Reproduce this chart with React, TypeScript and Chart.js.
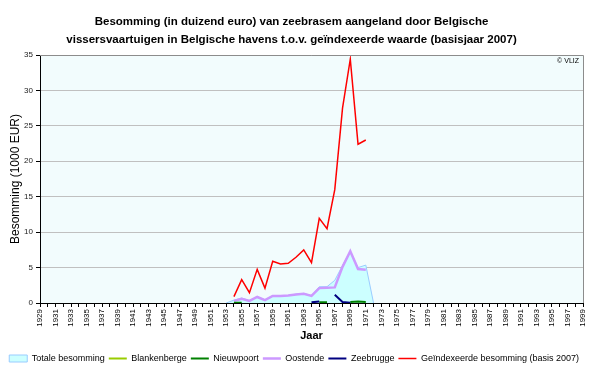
import React, { useEffect, useRef } from 'react';
import { Chart, registerables } from 'chart.js';

Chart.register(...registerables);

// Category axis: every year 1929–1999
const years: string[] = [];
for (let y = 1929; y <= 1999; y++) years.push(String(y));

// Series values (1000 EUR), listed for the years 1953..1972
const seriesStartYear = 1953;
const totaleBesomming = [0, 0.4, 0.7, 0.35, 0.9, 0.45, 1.05, 1.0, 1.05, 1.25, 1.35, 1.05, 2.3, 2.3, 3.2, 5.3, 7.3, 5.0, 5.35, 0];
const blankenberge: (number | null)[] = [];
const nieuwpoort = [null, 0.05, 0.05, null, null, null, null, null, null, null, null, null, 0.1, 0.1, null, null, 0.15, 0.2, 0.15, null];
const oostende = [null, 0.3, 0.6, 0.3, 0.85, 0.4, 1.0, 1.0, 1.05, 1.2, 1.3, 1.0, 2.1, 2.15, 2.2, 5.1, 7.3, 4.8, 4.7, null];
const zeebrugge = [null, null, null, null, null, null, null, null, null, null, null, 0.1, 0.2, null, 1.15, 0.15, 0.05, null, null, null];
const geindexeerd = [null, 0.9, 3.3, 1.45, 4.75, 2.1, 5.9, 5.5, 5.6, 6.45, 7.5, 5.7, 11.95, 10.5, 16.0, 27.5, 34.4, 22.4, 23.0, null];

const yTicks = [0, 5, 10, 15, 20, 25, 30, 35];

const pad = (arr: (number | null)[]) =>
  years.map((y) => {
    const i = Number(y) - seriesStartYear;
    return i >= 0 && i < arr.length ? arr[i] : null;
  });

const FONT = "'Liberation Sans', Arial, sans-serif";

const plotDecor = {
  id: 'plotDecor',
  beforeDraw(chart: any) {
    const { ctx, chartArea: a } = chart;
    ctx.save();
    ctx.fillStyle = '#f2fcfd';
    ctx.fillRect(a.left, a.top, a.right - a.left, a.bottom - a.top);
    ctx.restore();
  },
  afterDraw(chart: any) {
    const { ctx, chartArea: a } = chart;
    ctx.save();
    ctx.strokeStyle = '#8c8c8c';
    ctx.lineWidth = 1;
    ctx.beginPath();
    ctx.moveTo(a.left, a.top + 0.5);
    ctx.lineTo(a.right + 0.5, a.top + 0.5);
    ctx.lineTo(a.right + 0.5, a.bottom);
    ctx.stroke();
    ctx.fillStyle = '#000';
    ctx.font = `7px ${FONT}`;
    ctx.textAlign = 'right';
    ctx.textBaseline = 'middle';
    ctx.fillText('© VLIZ', a.right - 4, a.top + 6);
    ctx.restore();
  },
};

export default function App() {
  const ref = useRef<HTMLCanvasElement | null>(null);

  useEffect(() => {
    document.body.style.margin = '0';
    const canvas = ref.current;
    if (!canvas) return;
    const chart = new Chart(canvas, {
      type: 'line',
      data: {
        labels: years,
        datasets: [
          {
            label: 'Totale besomming',
            data: pad(totaleBesomming),
            borderColor: '#99ccff',
            backgroundColor: '#ccffff',
            borderWidth: 1,
            fill: 'origin',
            pointRadius: 0,
            pointStyle: 'rect',
            order: 10,
          },
          {
            label: 'Blankenberge',
            data: pad(blankenberge),
            borderColor: '#99cc00',
            backgroundColor: '#99cc00',
            borderWidth: 2,
            fill: false,
            pointRadius: 0,
            pointStyle: 'line',
            order: 5,
          },
          {
            label: 'Nieuwpoort',
            data: pad(nieuwpoort),
            borderColor: '#008000',
            backgroundColor: '#008000',
            borderWidth: 2,
            fill: false,
            pointRadius: 0,
            pointStyle: 'line',
            order: 4,
          },
          {
            label: 'Oostende',
            data: pad(oostende),
            borderColor: '#cc99ff',
            backgroundColor: '#cc99ff',
            borderWidth: 2.5,
            fill: false,
            pointRadius: 0,
            pointStyle: 'line',
            order: 6,
          },
          {
            label: 'Zeebrugge',
            data: pad(zeebrugge),
            borderColor: '#000080',
            backgroundColor: '#000080',
            borderWidth: 2,
            fill: false,
            pointRadius: 0,
            pointStyle: 'line',
            order: 3,
          },
          {
            label: 'Geïndexeerde besomming (basis 2007)',
            data: pad(geindexeerd),
            borderColor: '#ff0000',
            backgroundColor: '#ff0000',
            borderWidth: 1.5,
            fill: false,
            pointRadius: 0,
            pointStyle: 'line',
            order: 1,
          },
        ],
      },
      options: {
        responsive: false,
        animation: false,
        spanGaps: false,
        layout: { padding: { left: 0, right: 17, top: 0, bottom: -5 } },
        font: { family: FONT },
        plugins: {
          tooltip: { enabled: false },
          title: {
            display: true,
            text: [
              'Besomming (in duizend euro) van zeebrasem aangeland door Belgische',
              'vissersvaartuigen in Belgische havens t.o.v. geïndexeerde waarde (basisjaar 2007)',
            ],
            color: '#000',
            font: { family: FONT, size: 11.5, weight: 'bold', lineHeight: '18px' },
            padding: { top: 13, bottom: 6 },
          },
          legend: {
            position: 'bottom',
            align: 'end',
            labels: {
              usePointStyle: true,
              pointStyleWidth: 18,
              boxHeight: 7,
              padding: 4,
              color: '#000',
              font: { family: FONT, size: 9 },
              sort: (a: any, b: any) => a.datasetIndex - b.datasetIndex,
            },
          },
        },
        scales: {
          x: {
            type: 'category',
            offset: false,
            afterFit: (s: any) => {
              s.height = 47;
            },
            grid: {
              display: true,
              drawOnChartArea: false,
              drawTicks: true,
              tickLength: 4,
              color: '#000',
            },
            border: { display: true, color: '#000' },
            ticks: {
              autoSkip: false,
              maxRotation: 90,
              minRotation: 90,
              padding: 2,
              color: '#000',
              font: { family: FONT, size: 8 },
              callback: (_v: any, i: number) => (i % 2 === 0 ? years[i] : ''),
            },
            title: {
              display: true,
              text: 'Jaar',
              color: '#000',
              font: { family: FONT, size: 11, weight: 'bold' },
              padding: { top: 0, bottom: 7 },
            },
          },
          y: {
            min: 0,
            max: 35,
            afterFit: (s: any) => {
              s.width = 40;
            },
            afterBuildTicks: (s: any) => {
              s.ticks = yTicks.map((v) => ({ value: v }));
            },
            grid: {
              color: '#c0c0c0',
              lineWidth: 1,
              tickLength: 4,
              tickColor: '#000',
            },
            border: { display: true, color: '#000' },
            ticks: {
              padding: 3,
              color: '#222',
              font: { family: FONT, size: 8 },
            },
            title: {
              display: true,
              text: 'Besomming (1000 EUR)',
              color: '#000',
              font: { family: FONT, size: 12 },
              padding: { top: 8, bottom: 0 },
            },
          },
        },
      },
      plugins: [plotDecor],
    } as any);
    return () => chart.destroy();
  }, []);

  return (
    <div style={{ width: 600, height: 368 }}>
      <canvas ref={ref} width={600} height={368} style={{ display: 'block' }} />
    </div>
  );
}
